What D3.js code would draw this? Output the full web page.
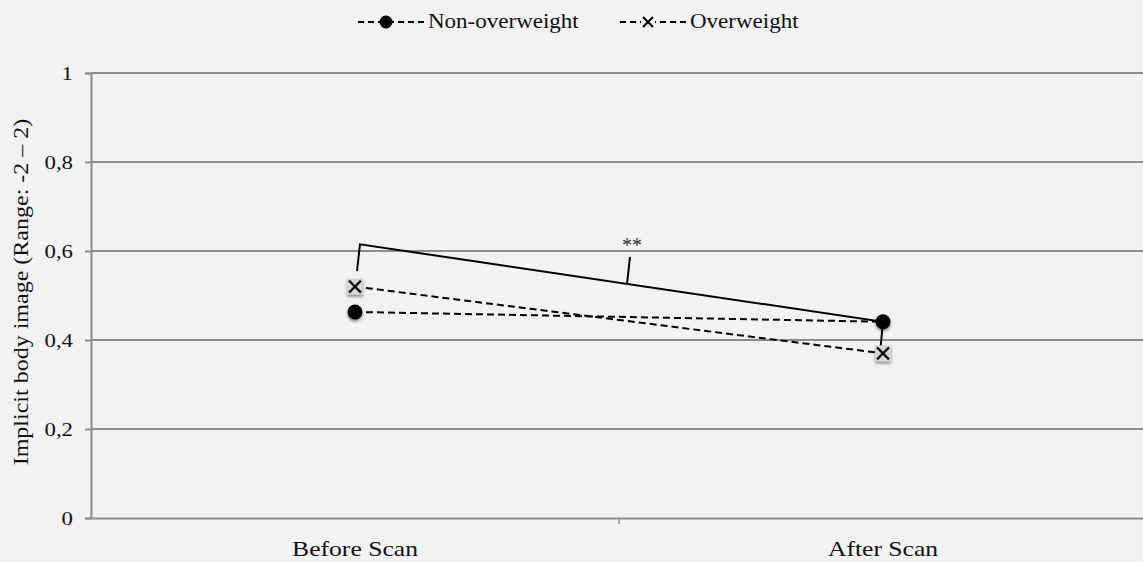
<!DOCTYPE html>
<html>
<head>
<meta charset="utf-8">
<script src="https://cdn.jsdelivr.net/npm/d3@7"></script>
<style>
  body { margin: 0; background: #f2f2f2; }
  svg { display: block; }
  svg text { font-family: "Liberation Serif", "Times New Roman", Times, "DejaVu Serif", serif !important; }
</style>
</head>
<body>
<svg id="chart"></svg>
<script>
// data
const categories = ["Before Scan", "After Scan"];
const nonOverweight = [0.463, 0.441];
const overweight = [0.52, 0.37];
const yTicks = [0, 0.2, 0.4, 0.6, 0.8, 1];
const seriesNames = ["Non-overweight", "Overweight"];
const sigLabel = "**";

const W = 1143, H = 562;
const margin = { top: 73, right: -4, bottom: 44, left: 91 };
const width = W - margin.left - margin.right;
const height = H - margin.top - margin.bottom;

const svg = d3.select("#chart").attr("width", W).attr("height", H);
const g = svg.append("g").attr("transform", "translate(" + margin.left + "," + margin.top + ")");

const x = d3.scaleBand().domain(categories).range([0, width]);
const y = d3.scaleLinear().domain([0, 1]).range([height, 0]);
const cx = d => x(d) + x.bandwidth() / 2;

// the original text is a bit wider than the font, stretch it
function stretch(sel, k) {
  sel.each(function() {
    const L = this.getComputedTextLength();
    d3.select(this).attr("textLength", L * k).attr("lengthAdjust", "spacingAndGlyphs");
  });
}

// gridlines
g.selectAll(".grid").data(yTicks.slice(1)).enter().append("line")
  .attr("x1", 0).attr("x2", width)
  .attr("y1", d => y(d)).attr("y2", d => y(d))
  .attr("stroke", "#8c8c8c").attr("stroke-width", 2);

// y axis
const yAxis = g.append("g")
  .call(d3.axisLeft(y).tickValues(yTicks).tickSize(6).tickPadding(12)
    .tickFormat(d => d3.format("")(d).replace(".", ",")));
yAxis.select(".domain").attr("stroke", "#8c8c8c").attr("stroke-width", 2);
yAxis.selectAll(".tick line").attr("stroke", "#8c8c8c").attr("stroke-width", 2);
yAxis.selectAll(".tick text").attr("font-size", 19).attr("fill", "#111").call(stretch, 1.2);

// x axis
const xAxis = g.append("g").attr("transform", "translate(0," + height + ")")
  .call(d3.axisBottom(x).tickSize(0).tickPadding(23));
xAxis.select(".domain").attr("stroke", "#8c8c8c").attr("stroke-width", 2);
xAxis.selectAll(".tick text").attr("font-size", 21).attr("fill", "#111").call(stretch, 1.22);
// category separator tick
g.append("line")
  .attr("x1", x(categories[1])).attr("x2", x(categories[1]))
  .attr("y1", height).attr("y2", height + 6)
  .attr("stroke", "#8c8c8c").attr("stroke-width", 1.5);

// y axis title
svg.append("text")
  .attr("transform", "translate(28," + 292 + ") rotate(-90)")
  .attr("text-anchor", "middle")
  .attr("font-size", 20).attr("fill", "#111")
  .text("Implicit body image (Range: -2 \u2013 2)")
  .call(stretch, 1.2);

// shadow filter
const defs = svg.append("defs");
const f = defs.append("filter").attr("id", "shadow").attr("x", "-50%").attr("y", "-50%")
  .attr("width", "200%").attr("height", "200%");
f.append("feGaussianBlur").attr("in", "SourceAlpha").attr("stdDeviation", 1.5);
f.append("feOffset").attr("dx", 0).attr("dy", 2).attr("result", "b");
f.append("feComponentTransfer").append("feFuncA").attr("type", "linear").attr("slope", 0.45);
const fm = f.append("feMerge");
fm.append("feMergeNode");
fm.append("feMergeNode").attr("in", "SourceGraphic");

const line = d3.line().x((d, i) => cx(categories[i])).y(d => y(d));

function drawDot(sel, px, py, r) {
  sel.append("circle").attr("cx", px).attr("cy", py).attr("r", r)
    .attr("fill", "#000").attr("filter", "url(#shadow)");
}
function drawCross(sel, px, py, s) {
  const gg = sel.append("g").attr("filter", "url(#shadow)");
  gg.append("rect").attr("x", px - s - 2).attr("y", py - s - 2)
    .attr("width", 2 * s + 4).attr("height", 2 * s + 4).attr("fill", "#d6d6d6");
  gg.append("path")
    .attr("d", "M" + (px - s) + "," + (py - s) + "L" + (px + s) + "," + (py + s) +
      "M" + (px - s) + "," + (py + s) + "L" + (px + s) + "," + (py - s))
    .attr("stroke", "#111").attr("stroke-width", 2.2);
}

// series lines
g.append("path").datum(nonOverweight).attr("d", line)
  .attr("fill", "none").attr("stroke", "#000").attr("stroke-width", 2).attr("stroke-dasharray", "7,4");
g.append("path").datum(overweight).attr("d", line)
  .attr("fill", "none").attr("stroke", "#000").attr("stroke-width", 2).attr("stroke-dasharray", "7,4");

// significance bracket (overweight before vs after)
const bx0 = cx(categories[0]) + 2, bx1 = cx(categories[1]);
const top0 = y(overweight[0] + 0.095), low0 = y(overweight[0] + 0.035);
const end1 = y(nonOverweight[1]);
g.append("path")
  .attr("d", "M" + bx0 + "," + low0 + "L" + (bx0 + 3) + "," + top0 +
    "L" + bx1 + "," + end1 + "L" + (bx1 - 3) + "," + y(overweight[1]))
  .attr("fill", "none").attr("stroke", "#000").attr("stroke-width", 2);
const mx = (bx0 + bx1) / 2 + 7;
const my = top0 + (end1 - top0) * ((mx - bx0 - 3) / (bx1 - bx0 - 3));
g.append("line").attr("x1", mx).attr("y1", my).attr("x2", mx + 3).attr("y2", my - 27)
  .attr("stroke", "#000").attr("stroke-width", 2);
g.append("text").attr("x", mx + 5).attr("y", my - 32)
  .attr("text-anchor", "middle").attr("font-size", 20).attr("fill", "#333").text(sigLabel);

// markers
nonOverweight.forEach((v, i) => drawDot(g, cx(categories[i]), y(v), 7.5));
overweight.forEach((v, i) => drawCross(g, cx(categories[i]), y(v), 6));

// legend
const leg = svg.append("g").attr("transform", "translate(0,22)");
const items = [
  { name: seriesNames[0], x: 358, type: "dot" },
  { name: seriesNames[1], x: 620, type: "cross" }
];
items.forEach(it => {
  leg.append("line").attr("x1", it.x).attr("x2", it.x + 66).attr("y1", 0).attr("y2", 0)
    .attr("stroke", "#000").attr("stroke-width", 2).attr("stroke-dasharray", "6,4");
  const px = it.x + 28;
  if (it.type === "dot") {
    leg.append("circle").attr("cx", px).attr("cy", 0).attr("r", 6.5).attr("fill", "#000");
  } else {
    const s = 5;
    leg.append("rect").attr("x", px - 7).attr("y", -7).attr("width", 14).attr("height", 14).attr("fill", "#f2f2f2");
    leg.append("path")
      .attr("d", "M" + (px - s) + "," + (-s) + "L" + (px + s) + "," + s + "M" + (px - s) + "," + s + "L" + (px + s) + "," + (-s))
      .attr("stroke", "#000").attr("stroke-width", 2);
  }
  leg.append("text").attr("x", it.x + 70).attr("y", 6).attr("font-size", 20).attr("fill", "#111")
    .text(it.name).call(stretch, 1.15);
});
</script>
</body>
</html>
